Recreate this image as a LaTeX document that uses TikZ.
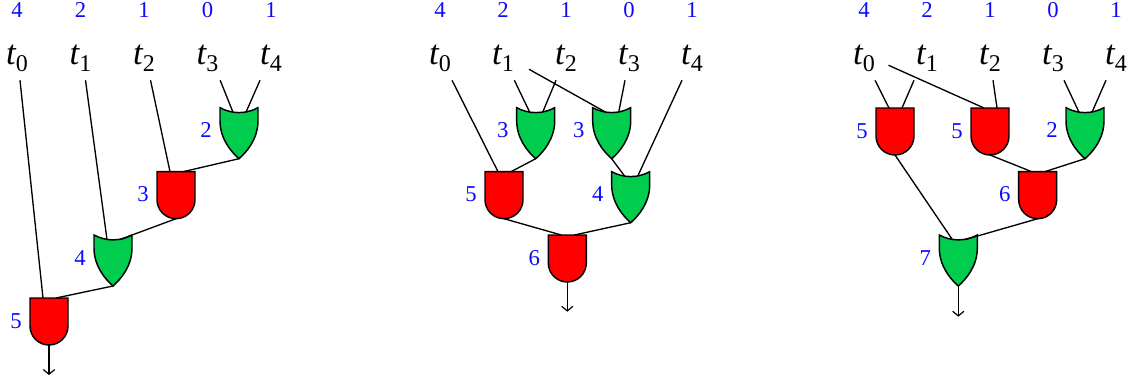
\documentclass[tikz,border=0pt]{standalone}
\usepackage{fontspec}
\setmainfont{Liberation Serif}
\usetikzlibrary{arrows.meta,calc}
\definecolor{wgreen}{RGB}{0,204,77}
\definecolor{wblue}{RGB}{10,10,255}
\newcommand{\tsym}[1]{{\itshape t}\raisebox{-0.23em}{\fontsize{18}{18}\selectfont #1}}
\tikzset{
  x=0.75pt,y=-0.75pt,
  gatebox/.style={anchor=north west,inner sep=0pt,outer sep=0pt,minimum width=28.5pt,minimum height=35.25pt},
  gateline/.style={draw=black,line width=1.1pt,line join=miter},
  wire/.style={draw=black,line width=1pt},
  outwire/.style={wire,-{Straight Barb[length=3.5pt,width=8.5pt,line width=0.9pt]}},
  tlabel/.style={anchor=base,inner xsep=0pt,inner ysep=0pt,font=\fontsize{26}{26}\selectfont,text depth=12pt,text=black},
  numlabel/.style={anchor=base,inner sep=0pt,font=\fontsize{17}{17}\selectfont,text=wblue},
}
% name, left x, top y, weight
\newcommand{\andgate}[4]{%
  \fill[red,gateline] (#2,#3) -- (#2+38,#3) -- (#2+38,#3+28)
     arc[start angle=0,end angle=-180,radius=14.25pt] -- cycle;
  \node[gatebox] (#1) at (#2,#3) {};
  \coordinate (#1-l) at (#2+13,#3);
  \coordinate (#1-r) at (#2+26,#3);
  \coordinate (#1-o) at (#2+19,#3+47);
  \node[numlabel] (#1-w) at (#2-14,#3+30) {#4};
}
\newcommand{\orgate}[4]{%
  \fill[wgreen,gateline] (#2,#3) .. controls (#2+12,#3+6.5) and (#2+26,#3+6.5) .. (#2+38,#3)
     -- (#2+38,#3+13) .. controls (#2+38,#3+31) and (#2+27,#3+44) .. (#2+19,#3+51)
     .. controls (#2+11,#3+44) and (#2,#3+31) .. (#2,#3+13) -- cycle;
  \node[gatebox,minimum height=38.25pt] (#1) at (#2,#3) {};
  \coordinate (#1-l) at (#2+13,#3+4.5);
  \coordinate (#1-r) at (#2+26,#3+4.5);
  \coordinate (#1-o) at (#2+19,#3+51);
  \node[numlabel] (#1-w) at (#2-14,#3+30) {#4};
}
\begin{document}
\begin{tikzpicture}
\useasboundingbox (0,0) rectangle (1135,383);
\foreach \i/\w [count=\c from 0] in {0/4,1/2,2/1,3/0,4/1}{
  \pgfmathsetmacro{\cx}{17+63.5*\c}
  \node[numlabel] (an\i) at (\cx,17) {\w};
  \node[tlabel] (at\i) at (\cx,64) {\tsym{\i}};
  \pgfmathsetmacro{\cx}{440+63*\c}
  \node[numlabel] (bn\i) at (\cx,17) {\w};
  \node[tlabel] (bt\i) at (\cx,64) {\tsym{\i}};
  \pgfmathsetmacro{\cx}{864+63*\c}
  \node[numlabel] (cn\i) at (\cx,17) {\w};
  \node[tlabel] (ct\i) at (\cx,64) {\tsym{\i}};
}
% ---- left ----
\orgate{a2}{220}{107.7}{2}
\andgate{a3}{157}{171.7}{3}
\orgate{a4}{94}{235}{4}
\andgate{a5}{30}{298}{5}
\draw[wire] ([xshift=2.25pt]at0.south) -- (a5-l);
\draw[wire] ([xshift=3.75pt]at1.south) -- (a4-l);
\draw[wire] ([xshift=4.9pt]at2.south) -- (a3-l);
\draw[wire] ([xshift=9.5pt]at3.south) -- (a2-l);
\draw[wire] ([xshift=-8.25pt]at4.south) -- (a2-r);
\draw[wire] (a2-o) -- (a3-r);
\draw[wire] (a3-o) -- (a4-r);
\draw[wire] (a4-o) -- (a5-r);
\coordinate (aend) at (49,375);
\draw[outwire] (a5-o) -- (aend);
% ---- middle ----
\orgate{b3}{516.7}{107.7}{3}
\orgate{b3x}{592.7}{107.7}{3}
\andgate{b5}{485}{171.7}{5}
\orgate{b4}{611.7}{171.7}{4}
\andgate{b6}{548.3}{235}{6}
\draw[wire] ([xshift=9pt]bt0.south) -- (b5-l);
\draw[wire] ([xshift=8.5pt]bt1.south) -- (b3-l);
\draw[wire] ([xshift=-7.5pt]bt2.south) -- (b3-r);
\draw[wire] ([shift={(26,-11)}]bt1.south) -- (b3x-l);
\draw[wire] ([xshift=-3pt]bt3.south) -- (b3x-r);
\draw[wire] ([xshift=-7.5pt]bt4.south) -- (b4-r);
\draw[wire] (b3-o) -- (b5-r);
\draw[wire] (b3x-o) -- (b4-l);
\draw[wire] (b5-o) -- (b6-l);
\draw[wire] (b4-o) -- (b6-r);
\coordinate (bend) at (567.3,311.7);
\draw[outwire] (b6-o) -- (bend);
% ---- right ----
\andgate{c5}{876}{108}{5}
\andgate{c5x}{971}{108}{5}
\orgate{c2}{1066}{107.7}{2}
\andgate{c6}{1018.7}{171.7}{6}
\orgate{c7}{939.3}{235}{7}
\draw[wire] ([xshift=8.25pt]ct0.south) -- (c5-l);
\draw[wire] ([xshift=-9.75pt]ct1.south) -- (c5-r);
\draw[wire] ([shift={(24.5,-15)}]ct0.south) -- (c5x-l);
\draw[wire] ([xshift=2.25pt]ct2.south) -- (c5x-r);
\draw[wire] ([xshift=8.25pt]ct3.south) -- (c2-l);
\draw[wire] ([xshift=-7.5pt]ct4.south) -- (c2-r);
\draw[wire] (c5-o) -- (c7-l);
\draw[wire] (c5x-o) -- (c6-l);
\draw[wire] (c2-o) -- (c6-r);
\draw[wire] (c6-o) -- (c7-r);
\coordinate (cend) at (958.3,316.7);
\draw[outwire] (c7-o) -- (cend);
\end{tikzpicture}
\end{document}
